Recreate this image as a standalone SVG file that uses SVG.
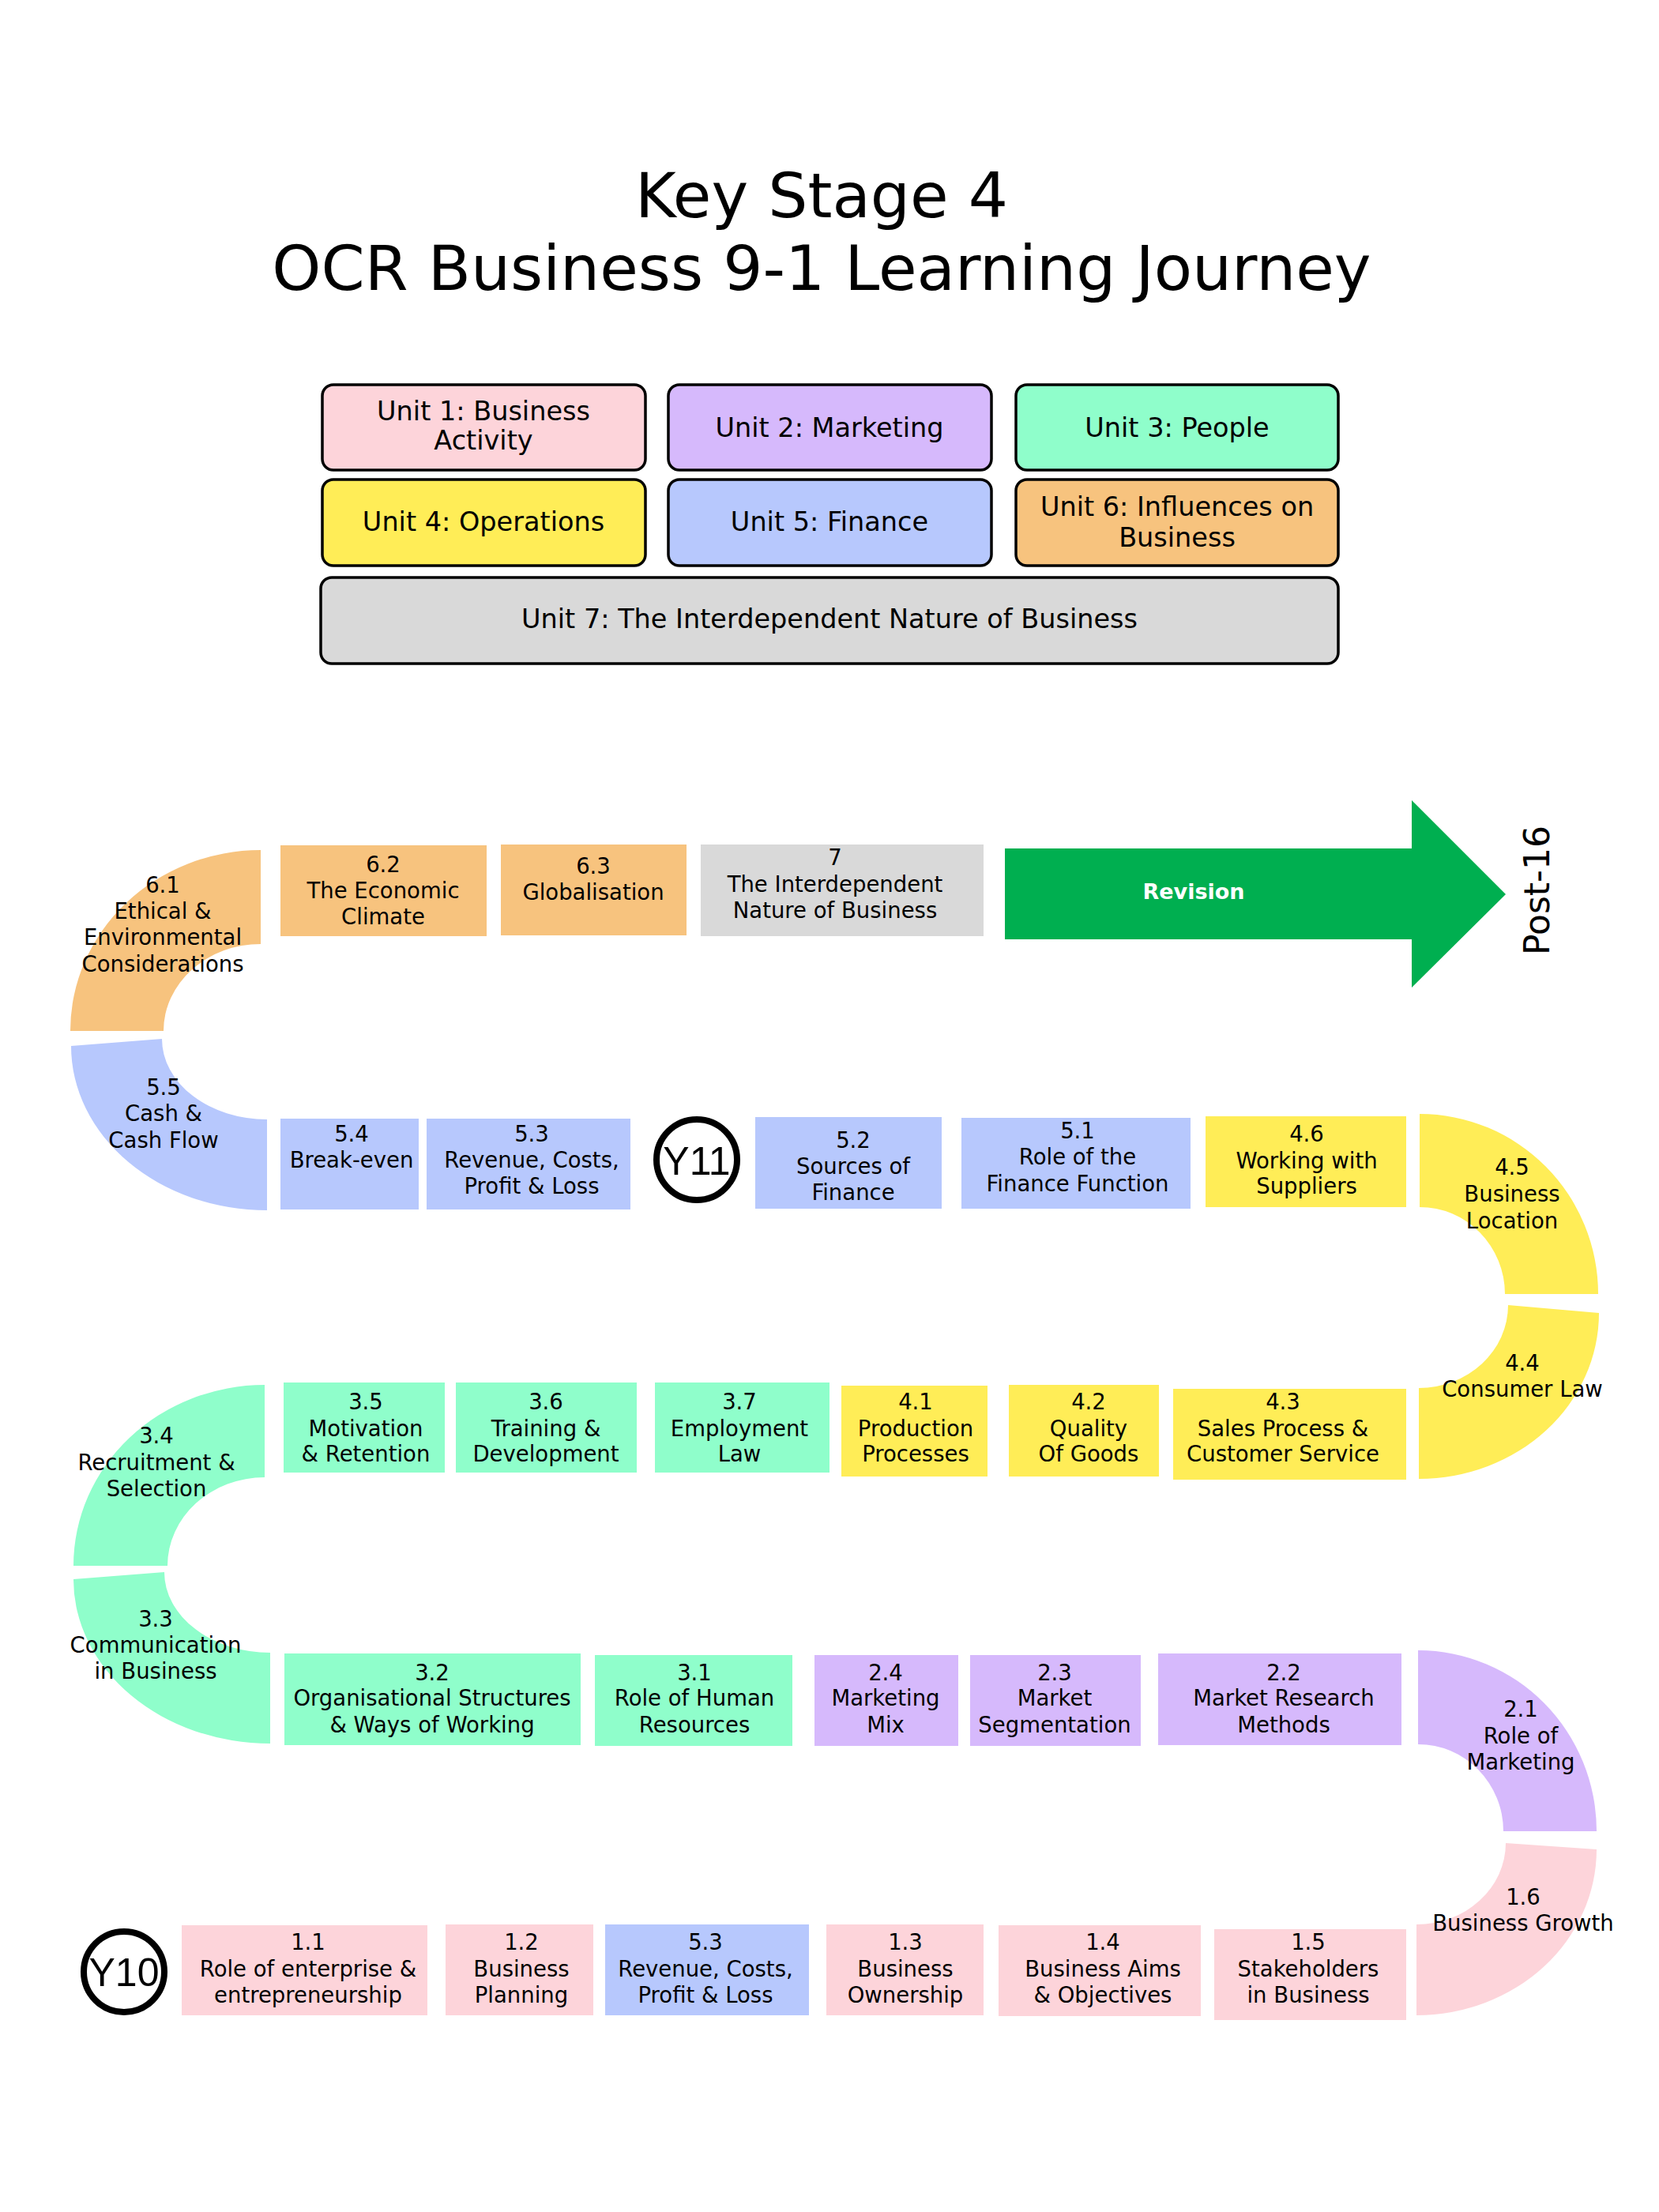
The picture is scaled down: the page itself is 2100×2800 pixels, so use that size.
<svg xmlns="http://www.w3.org/2000/svg" width="2100" height="2800" viewBox="0 0 2100 2800">
<style>
.pk{fill:#FDD4DA}.pu{fill:#D6B9FC}.mi{fill:#8FFECB}.ye{fill:#FFED57}.bl{fill:#B7C8FD}.or{fill:#F7C37E}.gr{fill:#D9D9D9}.gn{fill:#00AF50}
.lgb{stroke:#000;stroke-width:3.5}
text{font-family:"DejaVu Sans",Verdana,sans-serif;text-anchor:middle;fill:#000}
.t{font-size:27.5px}
.lg{font-size:33.5px}
.title{font-size:79px}
.rev{font-size:27px;font-weight:bold;fill:#fff}
.yr{font-family:"Liberation Sans",Arial,sans-serif;font-size:50px}
.ring{fill:#fff;stroke:#000;stroke-width:8}
</style>
<rect width="2100" height="2800" fill="#fff"/>
<g id="title">
<text class="title" x="1040" y="275">Key Stage 4</text>
<text class="title" x="1040" y="367">OCR Business 9-1 Learning Journey</text>
</g>
<g id="legend">
<g id="unit1"><rect class="pk lgb" x="408" y="487" width="409" height="108" rx="14"/><text class="lg"><tspan x="612" y="532">Unit 1: Business</tspan><tspan x="612" y="569">Activity</tspan></text></g>
<g id="unit2"><rect class="pu lgb" x="846" y="487" width="409" height="108" rx="14"/><text class="lg" x="1050" y="553">Unit 2: Marketing</text></g>
<g id="unit3"><rect class="mi lgb" x="1286" y="487" width="408" height="108" rx="14"/><text class="lg" x="1490" y="553">Unit 3: People</text></g>
<g id="unit4"><rect class="ye lgb" x="408" y="607" width="409" height="109" rx="14"/><text class="lg" x="612" y="672">Unit 4: Operations</text></g>
<g id="unit5"><rect class="bl lgb" x="846" y="607" width="409" height="109" rx="14"/><text class="lg" x="1050" y="672">Unit 5: Finance</text></g>
<g id="unit6"><rect class="or lgb" x="1286" y="607" width="408" height="109" rx="14"/><text class="lg"><tspan x="1490" y="653">Unit 6: Influences on</tspan><tspan x="1490" y="692">Business</tspan></text></g>
<g id="unit7"><rect class="gr lgb" x="406" y="731" width="1288" height="109" rx="14"/><text class="lg" x="1050" y="795">Unit 7: The Interdependent Nature of Business</text></g>
</g>
<g id="connectors"></g>
<g id="journey">
<!-- Row 1 -->
<g id="n6-1"><path class="or" d="M330,1076 A241,229 0 0 0 89,1305 L207,1305 A123,110 0 0 1 330,1195 Z"/><text class="t"><tspan x="206" y="1130">6.1</tspan><tspan x="206" y="1163">Ethical &amp;</tspan><tspan x="206" y="1196">Environmental</tspan><tspan x="206" y="1230">Considerations</tspan></text></g>
<g id="n6-2"><rect class="or" x="355" y="1070" width="261" height="115"/><text class="t"><tspan x="485" y="1104">6.2</tspan><tspan x="485" y="1137">The Economic</tspan><tspan x="485" y="1170">Climate</tspan></text></g>
<g id="n6-3"><rect class="or" x="634" y="1069" width="235" height="115"/><text class="t"><tspan x="751" y="1106">6.3</tspan><tspan x="751" y="1139">Globalisation</tspan></text></g>
<g id="n7"><rect class="gr" x="887" y="1069" width="358" height="116"/><text class="t"><tspan x="1057" y="1095">7</tspan><tspan x="1057" y="1129">The Interdependent</tspan><tspan x="1057" y="1162">Nature of Business</tspan></text></g>
<g id="revision"><polygon class="gn" points="1272,1074 1787,1074 1787,1013 1906,1132 1787,1250 1787,1189 1272,1189"/><text class="rev" x="1511" y="1138">Revision</text></g>
<g id="post16"><text transform="translate(1961,1127) rotate(-90)" x="0" y="0" style="font-size:44px">Post-16</text></g>
<!-- Row 2 -->
<g id="n5-5"><path class="bl" d="M90,1324 A248,208 0 0 0 338,1532 L338,1417 A133,102 0 0 1 205,1315 Z"/><text class="t"><tspan x="207" y="1386">5.5</tspan><tspan x="207" y="1419">Cash &amp;</tspan><tspan x="207" y="1453">Cash Flow</tspan></text></g>
<g id="n5-4"><rect class="bl" x="355" y="1416" width="175" height="115"/><text class="t"><tspan x="445" y="1445">5.4</tspan><tspan x="445" y="1478">Break-even</tspan></text></g>
<g id="n5-3a"><rect class="bl" x="540" y="1416" width="258" height="115"/><text class="t"><tspan x="673" y="1445">5.3</tspan><tspan x="673" y="1478">Revenue, Costs,</tspan><tspan x="673" y="1511">Profit &amp; Loss</tspan></text></g>
<g id="y11"><circle class="ring" cx="882" cy="1468" r="51"/><text class="yr" x="882" y="1487">Y11</text></g>
<g id="n5-2"><rect class="bl" x="956" y="1414" width="236" height="116"/><text class="t"><tspan x="1080" y="1453">5.2</tspan><tspan x="1080" y="1486">Sources of</tspan><tspan x="1080" y="1519">Finance</tspan></text></g>
<g id="n5-1"><rect class="bl" x="1217" y="1415" width="290" height="115"/><text class="t"><tspan x="1364" y="1441">5.1</tspan><tspan x="1364" y="1474">Role of the</tspan><tspan x="1364" y="1508">Finance Function</tspan></text></g>
<g id="n4-6"><rect class="ye" x="1526" y="1413" width="254" height="115"/><text class="t"><tspan x="1654" y="1445">4.6</tspan><tspan x="1654" y="1479">Working with</tspan><tspan x="1654" y="1511">Suppliers</tspan></text></g>
<g id="n4-5"><path class="ye" d="M1797,1410 A226,228 0 0 1 2023,1638 L1905,1638 A108,110 0 0 0 1797,1528 Z"/><text class="t"><tspan x="1914" y="1487">4.5</tspan><tspan x="1914" y="1521">Business</tspan><tspan x="1914" y="1555">Location</tspan></text></g>
<g id="n4-4"><path class="ye" d="M2024,1662 A228,210 0 0 1 1796,1872 L1796,1757 A113,105 0 0 0 1909,1652 Z"/><text class="t"><tspan x="1927" y="1735">4.4</tspan><tspan x="1927" y="1768">Consumer Law</tspan></text></g>
<!-- Row 3 -->
<g id="n3-4"><path class="mi" d="M335,1753 A242,229 0 0 0 93,1982 L212,1982 A123,112 0 0 1 335,1870 Z"/><text class="t"><tspan x="198" y="1827">3.4</tspan><tspan x="198" y="1861">Recruitment &amp;</tspan><tspan x="198" y="1894">Selection</tspan></text></g>
<g id="n3-5"><rect class="mi" x="359" y="1750" width="204" height="114"/><text class="t"><tspan x="463" y="1784">3.5</tspan><tspan x="463" y="1818">Motivation</tspan><tspan x="463" y="1850">&amp; Retention</tspan></text></g>
<g id="n3-6"><rect class="mi" x="577" y="1750" width="229" height="114"/><text class="t"><tspan x="691" y="1784">3.6</tspan><tspan x="691" y="1818">Training &amp;</tspan><tspan x="691" y="1850">Development</tspan></text></g>
<g id="n3-7"><rect class="mi" x="829" y="1750" width="221" height="114"/><text class="t"><tspan x="936" y="1784">3.7</tspan><tspan x="936" y="1818">Employment</tspan><tspan x="936" y="1850">Law</tspan></text></g>
<g id="n4-1"><rect class="ye" x="1065" y="1754" width="185" height="115"/><text class="t"><tspan x="1159" y="1784">4.1</tspan><tspan x="1159" y="1818">Production</tspan><tspan x="1159" y="1850">Processes</tspan></text></g>
<g id="n4-2"><rect class="ye" x="1277" y="1753" width="190" height="116"/><text class="t"><tspan x="1378" y="1784">4.2</tspan><tspan x="1378" y="1818">Quality</tspan><tspan x="1378" y="1850">Of Goods</tspan></text></g>
<g id="n4-3"><rect class="ye" x="1485" y="1758" width="295" height="115"/><text class="t"><tspan x="1624" y="1784">4.3</tspan><tspan x="1624" y="1818">Sales Process &amp;</tspan><tspan x="1624" y="1850">Customer Service</tspan></text></g>
<!-- Row 4 -->
<g id="n3-3"><path class="mi" d="M93,1999 A249,208 0 0 0 342,2207 L342,2092 A134,102 0 0 1 208,1990 Z"/><text class="t"><tspan x="197" y="2059">3.3</tspan><tspan x="197" y="2092">Communication</tspan><tspan x="197" y="2125">in Business</tspan></text></g>
<g id="n3-2"><rect class="mi" x="360" y="2093" width="375" height="116"/><text class="t"><tspan x="547" y="2127">3.2</tspan><tspan x="547" y="2159">Organisational Structures</tspan><tspan x="547" y="2193">&amp; Ways of Working</tspan></text></g>
<g id="n3-1"><rect class="mi" x="753" y="2095" width="250" height="115"/><text class="t"><tspan x="879" y="2127">3.1</tspan><tspan x="879" y="2159">Role of Human</tspan><tspan x="879" y="2193">Resources</tspan></text></g>
<g id="n2-4"><rect class="pu" x="1031" y="2095" width="182" height="115"/><text class="t"><tspan x="1121" y="2127">2.4</tspan><tspan x="1121" y="2159">Marketing</tspan><tspan x="1121" y="2193">Mix</tspan></text></g>
<g id="n2-3"><rect class="pu" x="1228" y="2095" width="216" height="115"/><text class="t"><tspan x="1335" y="2127">2.3</tspan><tspan x="1335" y="2159">Market</tspan><tspan x="1335" y="2193">Segmentation</tspan></text></g>
<g id="n2-2"><rect class="pu" x="1466" y="2093" width="308" height="116"/><text class="t"><tspan x="1625" y="2127">2.2</tspan><tspan x="1625" y="2159">Market Research</tspan><tspan x="1625" y="2193">Methods</tspan></text></g>
<g id="n2-1"><path class="pu" d="M1795,2089 A226,229 0 0 1 2021,2318 L1903,2318 A108,110 0 0 0 1795,2208 Z"/><text class="t"><tspan x="1925" y="2173">2.1</tspan><tspan x="1925" y="2207">Role of</tspan><tspan x="1925" y="2240">Marketing</tspan></text></g>
<g id="n1-6"><path class="pk" d="M2021,2341 A228,210 0 0 1 1793,2551 L1793,2436 A113,103 0 0 0 1906,2333 Z"/><text class="t"><tspan x="1928" y="2411">1.6</tspan><tspan x="1928" y="2444">Business Growth</tspan></text></g>
<!-- Row 5 -->
<g id="y10"><circle class="ring" cx="157" cy="2496" r="51"/><text class="yr" x="157" y="2514">Y10</text></g>
<g id="n1-1"><rect class="pk" x="230" y="2437" width="311" height="114"/><text class="t"><tspan x="390" y="2468">1.1</tspan><tspan x="390" y="2502">Role of enterprise &amp;</tspan><tspan x="390" y="2535">entrepreneurship</tspan></text></g>
<g id="n1-2"><rect class="pk" x="564" y="2436" width="187" height="115"/><text class="t"><tspan x="660" y="2468">1.2</tspan><tspan x="660" y="2502">Business</tspan><tspan x="660" y="2535">Planning</tspan></text></g>
<g id="n5-3b"><rect class="bl" x="766" y="2436" width="258" height="115"/><text class="t"><tspan x="893" y="2468">5.3</tspan><tspan x="893" y="2502">Revenue, Costs,</tspan><tspan x="893" y="2535">Profit &amp; Loss</tspan></text></g>
<g id="n1-3"><rect class="pk" x="1046" y="2436" width="199" height="115"/><text class="t"><tspan x="1146" y="2468">1.3</tspan><tspan x="1146" y="2502">Business</tspan><tspan x="1146" y="2535">Ownership</tspan></text></g>
<g id="n1-4"><rect class="pk" x="1264" y="2437" width="256" height="115"/><text class="t"><tspan x="1396" y="2468">1.4</tspan><tspan x="1396" y="2502">Business Aims</tspan><tspan x="1396" y="2535">&amp; Objectives</tspan></text></g>
<g id="n1-5"><rect class="pk" x="1537" y="2442" width="243" height="115"/><text class="t"><tspan x="1656" y="2468">1.5</tspan><tspan x="1656" y="2502">Stakeholders</tspan><tspan x="1656" y="2535">in Business</tspan></text></g>
</g>
</svg>
